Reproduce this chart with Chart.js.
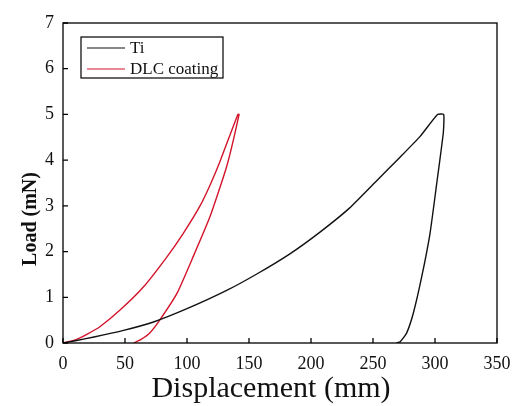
<!DOCTYPE html>
<html>
<head>
<meta charset="utf-8">
<script src="https://cdn.jsdelivr.net/npm/chart.js@4"></script>
<style>
  html, body { margin: 0; padding: 0; background: #fff; }
  #wrap { width: 515px; height: 406px; }
</style>
</head>
<body>
<div id="wrap"><canvas id="loadChart" width="515" height="406"></canvas></div>
<script>
// values
const seriesNames = ['Ti', 'DLC coating'];
const tiDisp = [0, 10, 25, 48, 73, 100, 132, 157, 183, 207, 231, 253, 272, 288, 302, 307,
                306.7, 301.4, 296, 289.3, 282.5, 277, 272, 269];
const tiLoad = [0, 0.05, 0.13, 0.27, 0.46, 0.75, 1.15, 1.52, 1.95, 2.42, 2.95, 3.55, 4.07, 4.52, 5, 5,
                4.6, 3.49, 2.4, 1.45, 0.65, 0.21, 0.03, 0];
const dlcDisp = [0, 10, 20, 30, 46, 65, 84, 97, 110.5, 119, 127, 141,
                 142, 132, 118.5, 105, 92, 78, 70, 63, 57];
const dlcLoad = [0, 0.07, 0.2, 0.36, 0.72, 1.23, 1.89, 2.4, 3.0, 3.48, 4.0, 5,
                 5, 3.86, 2.76, 1.89, 1.09, 0.5, 0.22, 0.08, 0];
const xTicks = [0, 50, 100, 150, 200, 250, 300, 350];
const yTicks = [0, 1, 2, 3, 4, 5, 6, 7];
const xTitle = 'Displacement (mm)';
const yTitle = 'Load (mN)';

const serif = '"Liberation Serif", "DejaVu Serif", serif';
const colors = ['#111111', '#d3142b'];

function toPoints(xs, ys) {
    return xs.map((x, i) => ({ x: x, y: ys[i] }));
}

// box, inward ticks, axis titles and legend
const framePlugin = {
    id: 'frame',
    afterDraw(chart) {
        const ctx = chart.ctx;
        const a = chart.chartArea;
        const xs = chart.scales.x;
        const ys = chart.scales.y;
        ctx.save();
        ctx.strokeStyle = '#000';
        ctx.lineWidth = 1.3;
        ctx.strokeRect(a.left, a.top, a.right - a.left, a.bottom - a.top);
        ctx.beginPath();
        xTicks.forEach(v => {
            const px = xs.getPixelForValue(v);
            ctx.moveTo(px, a.bottom);
            ctx.lineTo(px, a.bottom - 5);
        });
        yTicks.forEach(v => {
            const py = ys.getPixelForValue(v);
            ctx.moveTo(a.left, py);
            ctx.lineTo(a.left + 5, py);
        });
        ctx.stroke();

        // axis titles
        ctx.fillStyle = '#111';
        ctx.textAlign = 'center';
        ctx.textBaseline = 'middle';
        ctx.font = '30px ' + serif;
        ctx.fillText(xTitle, 271, 389);
        ctx.save();
        ctx.translate(31, 219);
        ctx.rotate(-Math.PI / 2);
        ctx.font = 'bold 20px ' + serif;
        ctx.fillText(yTitle, 0, 0);
        ctx.restore();

        // legend
        const lx = 81, ly = 37;
        ctx.lineWidth = 1.2;
        ctx.strokeRect(lx, ly, 142, 41);
        ctx.font = '17px ' + serif;
        ctx.textAlign = 'left';
        seriesNames.forEach((name, i) => {
            const yy = ly + 11 + i * 21;
            ctx.strokeStyle = colors[i];
            ctx.beginPath();
            ctx.moveTo(lx + 6, yy);
            ctx.lineTo(lx + 44, yy);
            ctx.stroke();
            ctx.fillStyle = '#111';
            ctx.fillText(name, lx + 49, yy + 1);
        });
        ctx.restore();
    }
};

const ctx = document.getElementById('loadChart').getContext('2d');
new Chart(ctx, {
    type: 'scatter',
    data: {
        datasets: [
            {
                label: seriesNames[0],
                data: toPoints(tiDisp, tiLoad),
                showLine: true,
                borderColor: colors[0],
                borderWidth: 1.4,
                pointRadius: 0,
                tension: 0.15
            },
            {
                label: seriesNames[1],
                data: toPoints(dlcDisp, dlcLoad),
                showLine: true,
                borderColor: colors[1],
                borderWidth: 1.4,
                pointRadius: 0,
                tension: 0.15
            }
        ]
    },
    options: {
        responsive: false,
        animation: false,
        layout: { padding: { top: 23, right: 18, left: 0, bottom: 0 } },
        plugins: {
            legend: { display: false },
            tooltip: { enabled: false }
        },
        scales: {
            x: {
                type: 'linear',
                min: 0,
                max: 350,
                afterFit: s => { s.height = 63; },
                afterBuildTicks: s => { s.ticks = xTicks.map(v => ({ value: v })); },
                grid: { display: false },
                border: { display: false },
                ticks: {
                    padding: 2,
                    color: '#111',
                    font: { family: serif, size: 18 }
                }
            },
            y: {
                type: 'linear',
                min: 0,
                max: 7,
                afterFit: s => { s.width = 63; },
                afterBuildTicks: s => { s.ticks = yTicks.map(v => ({ value: v })); },
                grid: { display: false },
                border: { display: false },
                ticks: {
                    padding: 1,
                    color: '#111',
                    font: { family: serif, size: 18 }
                }
            }
        }
    },
    plugins: [framePlugin]
});
</script>
</body>
</html>
